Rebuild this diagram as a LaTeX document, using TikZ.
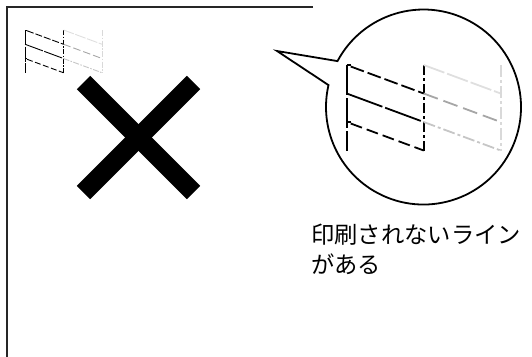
\documentclass[tikz,border=0pt]{standalone}
\usepackage{fontspec}
\newfontfamily\jpfont{Noto Sans CJK JP}
\usetikzlibrary{positioning}

% one set of fence marks; #1,#2 top left corner, #3 size factor
\newcommand{\fence}[3]{%
  \begin{scope}[shift={(#1,#2)},scale=#3,line width=#3*1.8pt]
    \draw[dash pattern=on #3*30pt off #3*3pt] (0,0) -- (0,85.5);
    \draw[dash pattern=on #3*10pt off #3*3pt on #3*3pt off #3*3pt] (77,0) -- (77,85.5);
    \draw (0,0) -- (4,0);
    \draw (0,57) -- (4,57);
    \draw[dash pattern=on #3*14pt off #3*4pt] (4,1.5) -- (77,28.5);
    \draw[dash pattern=on #3*38pt off #3*3pt] (0,28.5) -- (77,57);
    \draw[dash pattern=on #3*12pt off #3*5pt] (4,58.5) -- (77,85.5);
    \draw (77,85.5) -- (77,80);
    \draw[gray!25, dash pattern=on #3*22pt off #3*3pt] (77,0) -- (154,28.5);
    \draw[gray!70, dash pattern=on #3*15pt off #3*6pt] (77,28.5) -- (154,57);
    \draw[gray!45, dash pattern=on #3*12pt off #3*3pt on #3*3pt off #3*3pt] (77,57) -- (154,85.5);
    \draw[gray!30, dash pattern=on #3*12pt off #3*3pt on #3*3pt off #3*3pt] (154,0) -- (154,85.5);
  \end{scope}}

\begin{document}
\begin{tikzpicture}[x=1pt,y=-1pt,
    paper/.style={line width=1.6pt, black!85},
    cross/.style={line width=19pt},
    lens/.style={line width=1.8pt},
    caption/.style={anchor=north west, align=left, inner sep=0pt,
                    font=\jpfont\fontsize{23.3}{30}\selectfont}]
  \useasboundingbox (0,0) rectangle (532,356);
  % sheet
  \draw[paper] (313,7) -- (7,7) -- (7,357);
  \fence{25}{30}{0.5}
  % big cross
  \coordinate (c1) at (83.5,82.5);
  \coordinate (c2) at (193.5,192.5);
  \coordinate (c3) at (193.5,82.5);
  \coordinate (c4) at (83.5,192.5);
  \draw[cross] (c1) -- (c2);
  \draw[cross] (c3) -- (c4);
  % magnifier bubble
  \coordinate (tip) at (277,51);
  \coordinate (rim) at (337.5,61.1);
  \draw[lens] (rim) arc[start angle=208.1, end angle=553, radius=97.5] -- (tip) -- cycle;
  \fence{346.7}{65}{1}
  \node[caption] (note) at (311,224) {印刷されないライン\\がある};
\end{tikzpicture}
\end{document}
